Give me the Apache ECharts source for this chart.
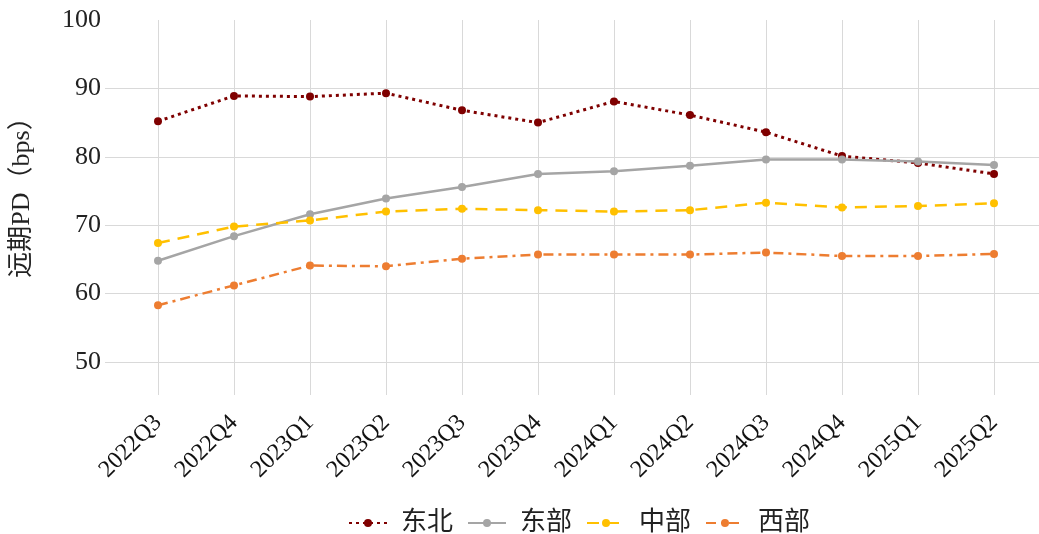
<!DOCTYPE html>
<html><head><meta charset="utf-8">
<script src="https://cdn.jsdelivr.net/npm/echarts@6/dist/echarts.min.js"></script>
<style>html,body{margin:0;padding:0;background:#fff}#c{width:1039px;height:534px}</style>
</head><body><div id="c"></div>
<script>
const categories = ['2022Q3','2022Q4','2023Q1','2023Q2','2023Q3','2023Q4','2024Q1','2024Q2','2024Q3','2024Q4','2025Q1','2025Q2'];
const dongbei = [85.2, 88.9, 88.8, 89.3, 86.8, 85.0, 88.1, 86.1, 83.6, 80.1, 79.1, 77.5];
const dongbu  = [64.8, 68.4, 71.6, 73.9, 75.6, 77.5, 77.9, 78.7, 79.6, 79.6, 79.3, 78.8];
const zhongbu = [67.4, 69.8, 70.7, 72.0, 72.4, 72.2, 72.0, 72.2, 73.3, 72.6, 72.8, 73.2];
const xibu    = [58.3, 61.2, 64.1, 64.0, 65.1, 65.7, 65.7, 65.7, 66.0, 65.5, 65.5, 65.8];
const seriesNames = ['东北','东部','中部','西部'];
const yTitle = '远期PD（bps）';

const serif = "'Liberation Serif','Noto Sans CJK SC',serif";
const gridColor = '#d9d9d9';
const chart = echarts.init(document.getElementById('c'), null, {renderer:'canvas'});

function mk(name, data, color, type, width) {
  return {
    name, type:'line', data, xAxisIndex:1, yAxisIndex:1,
    symbol:'circle', symbolSize:8,
    itemStyle:{color},
    lineStyle:{color, type, width},
    emphasis:{disabled:true}
  };
}

chart.setOption({
  animation:false,
  grid:[
    {left:105, right:0, top:20, bottom:172},
    {left:158, right:45, top:20, bottom:172}
  ],
  legend:{
    top:505, left:343,
    itemWidth:38, itemHeight:10, itemGap:14,
    textStyle:{fontFamily:serif, fontSize:26, color:'#222', padding:[0,0,0,9]},
    data:seriesNames
  },
  xAxis:[
    {type:'category', gridIndex:0, show:false, data:categories},
    {type:'category', gridIndex:1, data:categories, boundaryGap:false,
     axisLine:{show:false},
     axisTick:{show:true, length:33, lineStyle:{color:gridColor, width:1}},
     splitLine:{show:true, lineStyle:{color:gridColor, width:1}},
     axisLabel:{rotate:45, margin:57, fontFamily:serif, fontSize:24, color:'#111'}}
  ],
  yAxis:[
    {type:'value', gridIndex:0, min:50, max:100, interval:10,
     name:yTitle, nameLocation:'middle', nameGap:70, nameRotate:90,
     nameTextStyle:{fontFamily:serif, fontSize:26, color:'#222'},
     axisLine:{show:false}, axisTick:{show:false},
     axisLabel:{fontFamily:serif, fontSize:26, color:'#222', margin:4},
     splitLine:{show:true, lineStyle:{color:[gridColor,gridColor,gridColor,gridColor,gridColor,'rgba(0,0,0,0)'], width:1}}},
    {type:'value', gridIndex:1, min:50, max:100, interval:10, show:false,
     splitLine:{show:false}}
  ],
  series:[
    mk('东北', dongbei, '#7f0000', [3,4], 3),
    mk('东部', dongbu, '#a5a5a5', 'solid', 2.5),
    mk('中部', zhongbu, '#ffc000', [12,8], 2.5),
    mk('西部', xibu, '#ed7d31', [10,5,3,5], 2.5)
  ]
});
</script></body></html>
